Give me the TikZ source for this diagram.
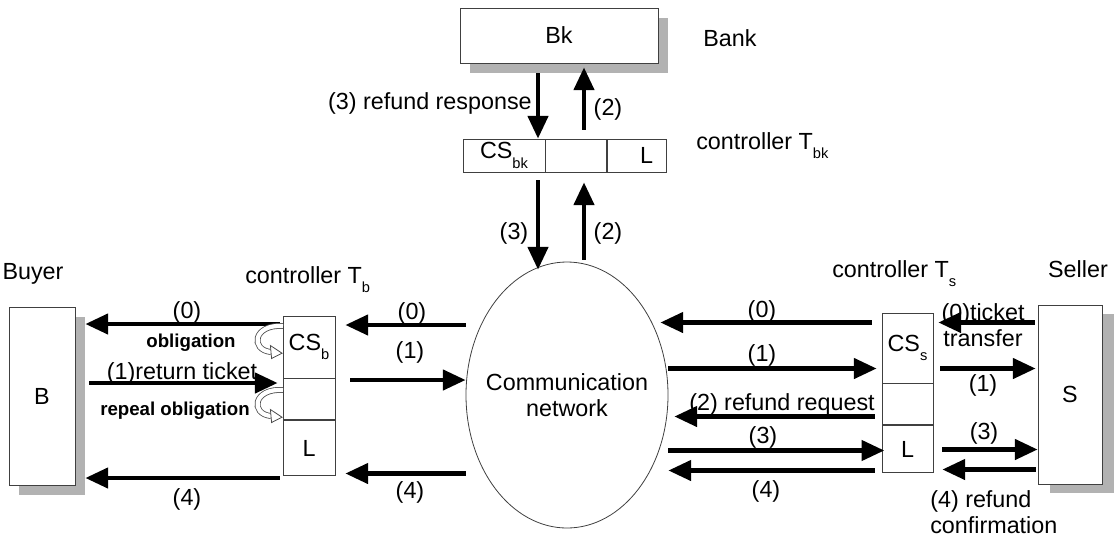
\documentclass[tikz,border=0pt]{standalone}
\usepackage{fontspec}
\setmainfont{Liberation Sans}
\usetikzlibrary{arrows.meta,shapes.geometric,positioning,backgrounds}

\newcommand{\lowsub}[1]{\raisebox{-0.4em}{\fontsize{11}{11}\selectfont #1}}

\tikzset{
  box/.style={draw=black!75, line width=0.6pt, fill=white, inner sep=0pt},
  shadowfill/.style={fill=black!30},
  arr/.style={line width=3.2pt, -{Triangle[length=17pt,width=15pt]}},
  lbl/.style={inner sep=0.75pt},
  smalllbl/.style={inner sep=0.75pt, font=\fontsize{14}{16}\selectfont\bfseries},
  curl/.style={draw=black!70, line width=0.6pt, double=white, double distance=3.2pt},
  curlhead/.style={fill=white, draw=black!70, line width=0.6pt, line join=miter},
}

\begin{document}
\begin{tikzpicture}[x=0.75pt,y=0.75pt,yscale=-1,xscale=1, font=\fontsize{17.5}{20}\selectfont]
  \useasboundingbox (0,0) rectangle (1114,540);

  % Bank and its controller
  \node[box, minimum width=148.5pt, minimum height=41.25pt] (bk) at (559,35.5) {Bk};
  \node[lbl] (bank) at (730,38) {Bank};
  \node[box, minimum width=61.5pt, minimum height=24.75pt] (tbkA) at (504,155.5) {CS\lowsub{bk}};
  \node[box, minimum width=45.75pt, minimum height=24.75pt, right=0pt of tbkA] (tbkB) {};
  \node[box, minimum width=44.25pt, minimum height=24.75pt, right=0pt of tbkB, text width=24pt, align=right] (tbkC) {L};
  \node[lbl, anchor=base west] (ctbk) at (695,149) {controller T\lowsub{bk}};

  % Communication network
  \node[ellipse, draw=black!75, line width=0.6pt, minimum width=151.5pt, minimum height=199.5pt, inner sep=0pt] (net) at (567,395) {};
  \node[lbl, align=center] (netlbl) at (net.center) {Communication\\network};

  % Buyer side
  \node[box, minimum width=49.5pt, minimum height=133.5pt] (b) at (42,396) {B};
  \node[lbl, anchor=base] (buyer) at (33,279) {Buyer};
  \node[box, minimum width=39pt, minimum height=46.5pt] (tbA) at (309,347) {CS\lowsub{b}};
  \node[box, minimum width=39pt, minimum height=30.75pt, below=0pt of tbA] (tbB) {};
  \node[box, minimum width=39pt, minimum height=41.25pt, below=0pt of tbB] (tbC) {L};
  \node[lbl, anchor=base west] (ctb) at (244,283) {controller T\lowsub{b}};

  % Seller side
  \node[box, minimum width=48pt, minimum height=134.25pt] (s) at (1070,394.5) {S};
  \node[lbl, anchor=base] (seller) at (1078,277) {Seller};
  \node[box, minimum width=38.25pt, minimum height=52.5pt] (tsA) at (907.5,348) {CS\lowsub{s}};
  \node[box, minimum width=38.25pt, minimum height=30.75pt, below=0pt of tsA] (tsB) {};
  \node[box, minimum width=38.25pt, minimum height=35.25pt, below=0pt of tsB] (tsC) {L};
  \node[lbl, anchor=base west] (cts) at (831,277) {controller T\lowsub{s}};

  % shadows
  \begin{scope}[on background layer]
    \fill[shadowfill] ([shift={(10,10)}]bk.north west) rectangle ([shift={(10,10)}]bk.south east);
    \fill[shadowfill] ([shift={(10,10)}]b.north west) rectangle ([shift={(10,10)}]b.south east);
    \fill[shadowfill] ([shift={(12,9)}]s.north west) rectangle ([shift={(12,9)}]s.south east);
  \end{scope}

  % Bank arrows
  \draw[arr, shorten <=7.5pt] (bk.south -| 538,0) -- (tbkA.north -| 538,0);
  \draw[arr, shorten <=6.75pt, shorten >=3pt] (tbkB.north -| 584,0) -- (bk.south -| 584,0);
  \draw[arr, shorten <=6pt, shorten >=-6pt] (tbkA.south -| 538,0) -- (net.north -| 538,0);
  \draw[arr, shorten <=1.5pt, shorten >=7.5pt] (net.north -| 584,0) -- (tbkB.south -| 584,0);
  \node[lbl, anchor=east] (l3r) at (533,103) {(3) refund response};
  \node[lbl] (l2a) at (608,109) {(2)};
  \node[lbl] (l3b) at (514,233) {(3)};
  \node[lbl] (l2b) at (608,233) {(2)};

  % Buyer arrows
  \draw[arr, shorten <=2.25pt, shorten >=7.5pt] (tbA.west |- 0,324) -- (b.east |- 0,324);
  \draw[arr, shorten <=10.5pt, shorten >=3.75pt] (b.east |- 0,383) -- (tbB.west |- 0,383);
  \draw[arr, shorten <=2.25pt, shorten >=7.5pt] (tbC.west |- 0,478) -- (b.east |- 0,478);
  \node[lbl] (lb0) at (187,312) {(0)};
  \node[smalllbl] (lob) at (191,343) {obligation};
  \node[lbl] (lb1) at (182,373) {(1)return ticket};
  \node[smalllbl] (lrep) at (175,411) {repeal obligation};
  \node[lbl] (lb4) at (187,499) {(4)};
  \foreach \cy in {326,390} {
    \begin{scope}[shift={(283,\cy)}]
      \draw[curl] (0,0) .. controls (-30,-2) and (-33,24) .. (-12,26);
      \draw[curlhead] (-12.6,19.5) -- (-1,27.2) -- (-11.4,32.5) -- cycle;
    \end{scope}
  }

  % network <-> buyer controller
  \draw[arr, shorten >=7.5pt] (net.west |- 0,325) -- (tbA.east |- 0,325);
  \draw[arr, shorten <=11.25pt] (tbB.east |- 0,380) -- (net.west |- 0,380);
  \draw[arr, shorten >=7.5pt] (net.west |- 0,473.5) -- (tbC.east |- 0,473.5);
  \node[lbl] (lm0) at (412,313) {(0)};
  \node[lbl] (lm1) at (410,352) {(1)};
  \node[lbl] (lm4) at (410,492) {(4)};

  % network <-> seller controller
  \draw[arr, shorten <=7.5pt, shorten >=-6pt] (tsA.west |- 0,322.5) -- (net.east |- 0,322.5);
  \draw[arr, shorten >=3.75pt] (net.east |- 0,368.5) -- (tsA.west |- 0,368.5);
  \draw[arr, shorten <=5.25pt, shorten >=4.5pt] (tsB.west |- 0,416.5) -- (net.east |- 0,416.5);
  \draw[arr, shorten >=-2pt] (net.east |- 0,450.5) -- (tsC.west |- 0,450.5);
  \draw[arr, shorten <=5.25pt] (tsC.west |- 0,470.5) -- (net.east |- 0,470.5);
  \node[lbl] (ln0) at (762,311) {(0)};
  \node[lbl] (ln1) at (762,355) {(1)};
  \node[lbl] (ln2) at (782,404) {(2) refund request};
  \node[lbl] (ln3) at (763,437) {(3)};
  \node[lbl] (ln4) at (766,491) {(4)};

  % seller controller <-> seller
  \draw[arr, shorten <=2.25pt, shorten >=3.75pt] (s.west |- 0,322.5) -- (tsA.east |- 0,322.5);
  \draw[arr, shorten <=5.25pt, shorten >=1.5pt] (tsA.east |- 0,368.5) -- (s.west |- 0,368.5);
  \draw[arr, shorten <=6.75pt] (tsC.east |- 0,449.5) -- (s.west |- 0,449.5);
  \draw[arr, shorten <=1.5pt, shorten >=6.75pt] (s.west |- 0,469.5) -- (tsC.east |- 0,469.5);
  \node[lbl, align=center] (ls0) at (983,325) {(0)ticket\\transfer};
  \node[lbl] (ls1) at (983,385) {(1)};
  \node[lbl] (ls3) at (984,433) {(3)};
  \node[lbl, anchor=west, align=left] (ls4) at (929,512) {(4) refund\\confirmation};
\end{tikzpicture}
\end{document}
